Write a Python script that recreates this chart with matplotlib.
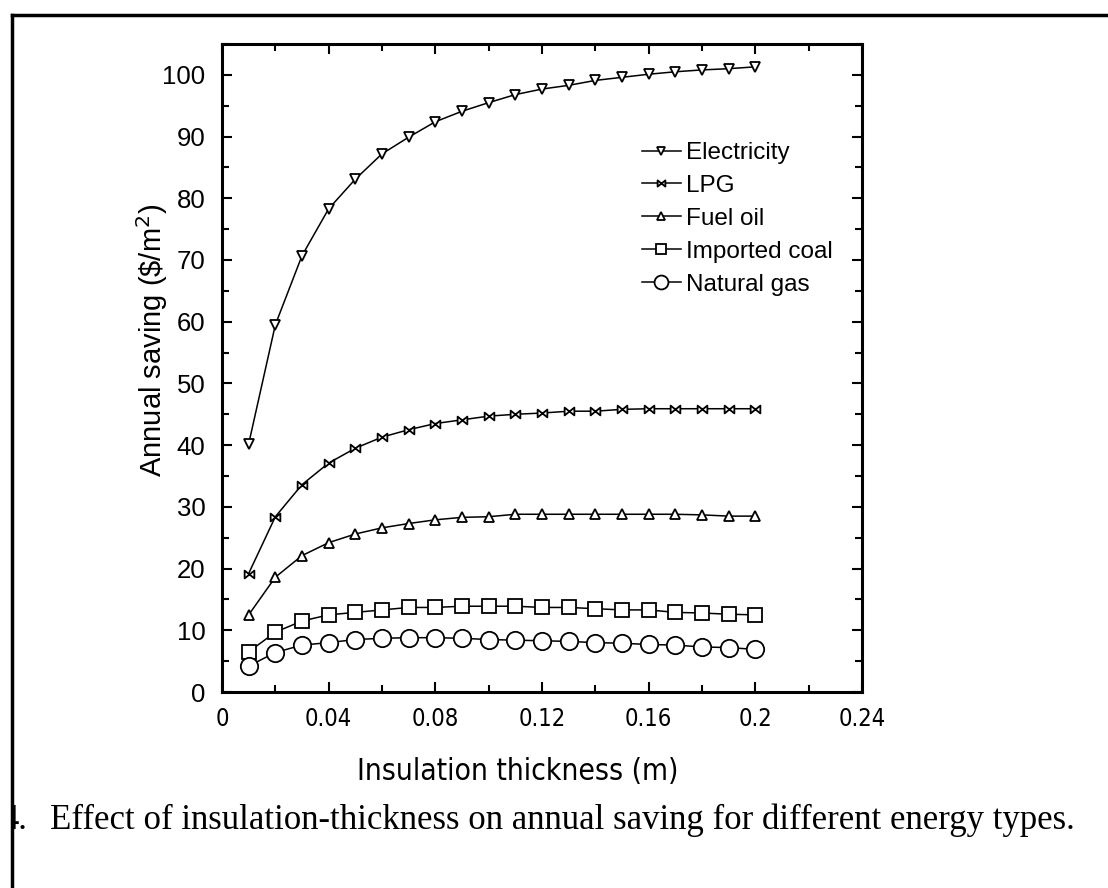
import matplotlib
matplotlib.use("Agg")
import matplotlib.pyplot as plt
from matplotlib.path import Path
from matplotlib.ticker import MultipleLocator, FixedLocator, FixedFormatter
from matplotlib.patches import Rectangle
from matplotlib.lines import Line2D

thickness = [0.01, 0.02, 0.03, 0.04, 0.05, 0.06, 0.07, 0.08, 0.09, 0.10,
             0.11, 0.12, 0.13, 0.14, 0.15, 0.16, 0.17, 0.18, 0.19, 0.20]
electricity = [40.2, 59.5, 70.7, 78.3, 83.1, 87.2, 89.9, 92.4, 94.1, 95.5,
               96.8, 97.7, 98.3, 99.1, 99.6, 100.1, 100.5, 100.8, 101.0, 101.3]
lpg = [19.2, 28.4, 33.6, 37.1, 39.5, 41.3, 42.5, 43.5, 44.1, 44.7,
       45.0, 45.2, 45.5, 45.5, 45.8, 45.9, 45.9, 45.9, 45.9, 45.9]
fuel_oil = [12.5, 18.6, 22.1, 24.2, 25.6, 26.6, 27.3, 27.9, 28.3, 28.4,
            28.8, 28.8, 28.8, 28.8, 28.8, 28.8, 28.8, 28.7, 28.5, 28.5]
imported_coal = [6.5, 9.7, 11.5, 12.5, 12.9, 13.3, 13.7, 13.7, 13.9, 13.9,
                 13.9, 13.7, 13.7, 13.5, 13.3, 13.3, 12.9, 12.8, 12.6, 12.5]
natural_gas = [4.2, 6.4, 7.6, 8.0, 8.5, 8.7, 8.8, 8.8, 8.7, 8.5,
               8.4, 8.3, 8.2, 8.0, 7.9, 7.7, 7.6, 7.3, 7.2, 6.9]

series_labels = ["Electricity", "LPG", "Fuel oil", "Imported coal", "Natural gas"]
x_ticks = [0, 0.04, 0.08, 0.12, 0.16, 0.2, 0.24]
x_tick_labels = ["0", "0.04", "0.08", "0.12", "0.16", "0.2", "0.24"]
y_ticks = [0, 10, 20, 30, 40, 50, 60, 70, 80, 90, 100]
y_tick_labels = [str(v) for v in y_ticks]
x_label = "Insulation thickness (m)"
y_label = "Annual saving (\\$/m$^{2}$)"
caption_number = "4."
caption = "Effect of insulation-thickness on annual saving for different energy types."

# bowtie marker for LPG
bowtie = Path([(-1, -0.8), (1, 0.8), (1, -0.8), (-1, 0.8), (-1, -0.8)],
              [Path.MOVETO, Path.LINETO, Path.LINETO, Path.LINETO, Path.CLOSEPOLY])

W, H = 1108, 888
fig = plt.figure(figsize=(W / 100, H / 100), dpi=100)
fig.patch.set_facecolor("white")

ax = fig.add_axes([222 / W, 1 - 692 / H, (862 - 222) / W, (692 - 44) / H])

sans = ["Liberation Sans", "DejaVu Sans"]
serif = ["Liberation Serif", "DejaVu Serif"]

data = [electricity, lpg, fuel_oil, imported_coal, natural_gas]
markers = ["v", bowtie, "^", "s", "o"]
msizes = [6.5, 7, 6.5, 9.5, 12.5]
for vals, lab, mk, ms in zip(data, series_labels, markers, msizes):
    ax.plot(thickness, vals, color="black", lw=1.1, marker=mk, ms=ms,
            mfc="white", mec="black", mew=1.3, label=lab)

ax.set_xlim(0, 0.24)
ax.set_ylim(0, 105)
ax.xaxis.set_major_locator(FixedLocator(x_ticks))
ax.xaxis.set_major_formatter(FixedFormatter(x_tick_labels))
ax.xaxis.set_minor_locator(MultipleLocator(0.02))
ax.yaxis.set_major_locator(FixedLocator(y_ticks))
ax.yaxis.set_major_formatter(FixedFormatter(y_tick_labels))
ax.yaxis.set_minor_locator(MultipleLocator(5))
ax.tick_params(which="both", direction="in", top=True, right=True, width=1.5)
ax.tick_params(which="major", length=7)
ax.tick_params(which="minor", length=5)
ax.tick_params(axis="x", pad=11)
ax.tick_params(axis="y", pad=12)
for s in ax.spines.values():
    s.set_linewidth(2.2)

for t in ax.get_xticklabels():
    t.set_fontfamily("DejaVu Sans")
    t.set_fontstretch("condensed")
    t.set_fontsize(17)
for t in ax.get_yticklabels():
    t.set_fontfamily(sans)
    t.set_fontsize(18.5)

fig.text(518 / W, 1 - 771 / H, x_label, family="DejaVu Sans",
         fontstretch="condensed", fontsize=21.5, ha="center", va="center")
fig.text(152 / W, 1 - 340 / H, y_label, family=sans, fontsize=21,
         rotation=90, ha="center", va="center")

leg = ax.legend(loc="upper left", bbox_to_anchor=(625 / W, 1 - 125 / H),
                bbox_transform=fig.transFigure, frameon=False,
                prop={"family": sans, "size": 17.5}, handlelength=1.6,
                handletextpad=0.2, labelspacing=0.45, markerscale=0.8,
                borderpad=0.2)

fig.text(27 / W, 1 - 820 / H, caption_number, family=serif, fontsize=25,
         va="center", ha="right")
fig.text(50 / W, 1 - 820 / H, caption, family=serif, fontsize=25,
         va="center", ha="left")

# mask left of frame line and draw frame
fig.patches.append(Rectangle((0, 0), 11 / W, 1, transform=fig.transFigure,
                             facecolor="white", edgecolor="none", zorder=5))
fig.add_artist(Line2D([12 / W, 12 / W], [0, 1 - 15 / H], transform=fig.transFigure,
                      color="black", lw=2.5, zorder=6))
fig.add_artist(Line2D([12 / W, 1], [1 - 15 / H, 1 - 15 / H], transform=fig.transFigure,
                      color="black", lw=2.5, zorder=6))

fig.savefig("out.png", dpi=100)
